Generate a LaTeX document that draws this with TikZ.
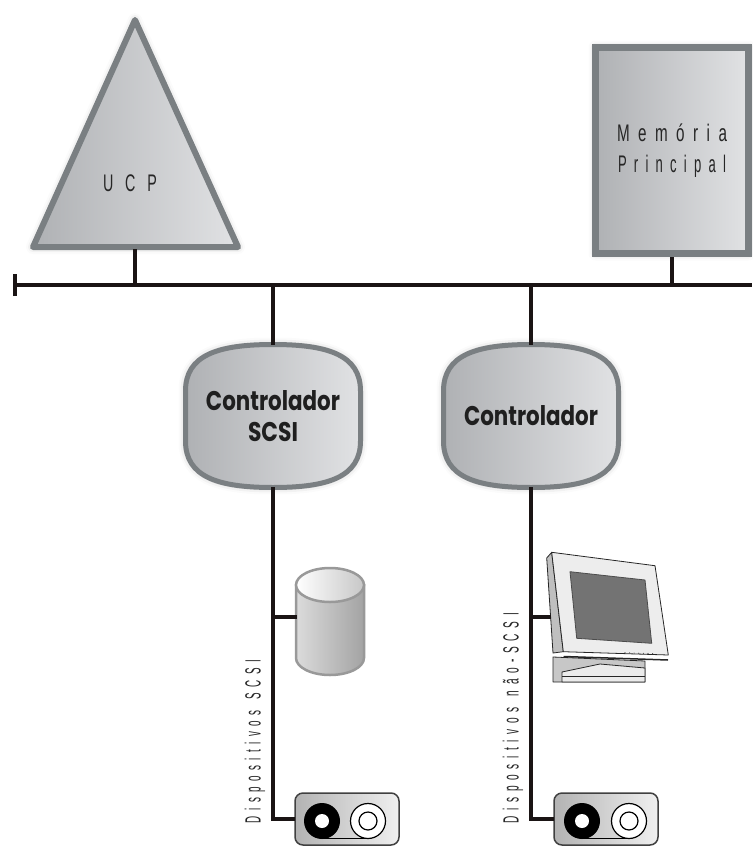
\documentclass[tikz,border=0pt]{standalone}
\usepackage{fontspec}
\setmainfont{Liberation Sans}
\newfontfamily\ctlfont{Poppins}
\usetikzlibrary{shadows.blur}
\definecolor{edge}{HTML}{7A7F82}
\definecolor{fillL}{HTML}{AFB1B4}
\definecolor{fillR}{HTML}{E1E2E4}
\definecolor{bus}{HTML}{1A1414}
\tikzset{
  unit/.style={draw=edge, left color=fillL, right color=fillR},
  soft/.style={blur shadow={shadow xshift=0pt, shadow yshift=0pt, shadow blur radius=7pt, shadow opacity=28}},
  busline/.style={draw=bus, line width=4pt},
  ctlshape/.style={unit, soft, line width=5pt},
  ctl/.style={minimum width=180pt, minimum height=148pt, inner sep=0pt,
    font=\ctlfont\bfseries\fontsize{27}{31}\selectfont, align=center, text=black!88},
  membox/.style={unit, soft, line width=7pt, minimum width=153pt, minimum height=206pt, align=center,
    font=\fontsize{24}{32}\selectfont, text=black!85},
  spaced/.style={font=\fontsize{24}{32}\selectfont, text=black!85},
  vlabel/.style={rotate=90, font=\fontsize{22}{22}\selectfont, text=black!85},
  dev/.style={draw=black!75, line width=1.5pt, rounded corners=8pt, left color=black!30, right color=black!6,
    minimum width=104pt, minimum height=52pt},
  reel/.style={draw=black, line width=1.2pt},
  mon/.style={draw=black!85, line width=0.8pt, line join=round},
}
\newcommand\ctloutline[1]{%
  \path[ctlshape, shift={(#1)}] (-87.5,-25) .. controls (-87.5,-61) and (-55,-71.5) .. (0,-71.5)
    .. controls (55,-71.5) and (87.5,-61) .. (87.5,-25) -- (87.5,25)
    .. controls (87.5,61) and (55,71.5) .. (0,71.5)
    .. controls (-55,71.5) and (-87.5,61) .. (-87.5,25) -- cycle;}
\newcommand\gap{\ \ }
\begin{document}
\begin{tikzpicture}[x=1pt,y=-1pt]
\useasboundingbox (0,0) rectangle (752,848);

% UCP triangle
\path[unit, soft, line width=6pt, line join=round] (135,20) -- (238,247) -- (33,247) -- cycle;
\node[spaced] (ucptext) at (130,183) {\resizebox{54pt}{\height}{U\ \ \ C\ \ \ P}};
\coordinate (ucp) at (135,249);

% Main memory
\node[membox] (mem) at (672,150.5)
  {\resizebox{110pt}{\height}{M\ \ e\ \ m\ \ ó\ \ r\ \ i\ \ a}\\[-1pt]\resizebox{108pt}{\height}{P\ \ r\ \ i\ \ n\ \ c\ \ i\ \ p\ \ a\ \ l}};

% Bus
\coordinate (busL) at (15,285);
\coordinate (busR) at (752,285);
\draw[busline] (busL) -- (busR);
\draw[busline] ([yshift=-11pt]busL) -- ([yshift=11pt]busL);
\draw[busline] (ucp) -- (ucp |- busL);
\draw[busline] (mem.south) -- (mem.south |- busL);

% Controllers
\coordinate (p1) at (273,416);
\coordinate (p2) at (531,416);
\ctloutline{p1}
\ctloutline{p2}
\node[ctl] (c1) at (p1) {\resizebox{134pt}{\height}{Controlador}\\\resizebox{50pt}{\height}{SCSI}};
\node[ctl] (c2) at (p2) {\resizebox{134pt}{\height}{Controlador}};
\draw[busline] (c1.north |- busL) -- ([yshift=-3pt]c1.north);
\draw[busline] (c2.north |- busL) -- ([yshift=-3pt]c2.north);

% Bottom devices
\node[dev] (d1) at (347,819) {};
\node[dev] (d2) at (606,819) {};
\foreach \d/\bx/\wx in {d1/-25/21, d2/-24/23}{
  \draw[reel, line width=1pt] ([xshift=\bx pt, yshift=-19pt]\d.center) -- ([xshift=\wx pt, yshift=-19pt]\d.center);
  \fill[black] ([xshift=\bx pt, yshift=-2pt]\d.center) circle[radius=18pt];
  \fill[white] ([xshift=\bx pt, yshift=-2pt]\d.center) circle[radius=7pt];
  \draw[reel, fill=white] ([xshift=\wx pt, yshift=-2pt]\d.center) circle[radius=17.5pt];
  \draw[reel] ([xshift=\wx pt, yshift=-2pt]\d.center) circle[radius=9pt];
}

% Cylinder (disk)
\coordinate (cyl) at (297,617);
\path[left color=black!14, right color=black!36, draw=black!40, line width=2.5pt]
  (296,585) -- (296,658) arc[start angle=180, end angle=0, x radius=34, y radius=17] -- (364,585) -- cycle;
\path[left color=white, right color=black!22, draw=black!40, line width=2.5pt]
  (330,585) ellipse[x radius=34, y radius=17];

% Monitor
\coordinate (mon) at (551,617);
\path[mon, fill=black!22] (553,657) -- (645,661) -- (645,682) -- (553,682) -- cycle;
\path[mon, fill=black!8] (562,672) -- (600,664) -- (645,668) -- (645,682) -- (562,682) -- cycle;
\draw[mon] (562,676) -- (645,676);
\path[mon, fill=black!25] (546.7,558) -- (551.7,552.3) -- (563.3,651.7) -- (553,653) -- cycle;
\path[mon, fill=black!7] (551.7,552.3) -- (655,565.7) -- (668.3,655) -- (563.3,651.7) -- cycle;
\path[mon, fill=black!55, draw=black!70] (570,571.7) -- (645,580) -- (651.7,643.3) -- (576.7,638.3) -- cycle;
\draw[mon, line width=1.5pt] (563.5,656.5) -- (668,660);
\foreach \i in {0,...,6}{
  \fill[black!70] ({625+4.6*\i},{652.8+0.15*\i}) circle[radius=0.6pt];
}

% Device chains
\coordinate (j1) at (c1.south |- cyl);
\coordinate (j2) at (c2.south |- mon);
\draw[busline] ([yshift=3pt]c1.south) -- (c1.south |- d1.west) -- ([xshift=1pt]d1.west);
\draw[busline] (j1) -- (cyl);
\draw[busline] ([yshift=3pt]c2.south) -- (c2.south |- d2.west) -- ([xshift=1pt]d2.west);
\draw[busline] (j2) -- (mon);

% Vertical labels
\node[vlabel] (lab1) at (255,741.5) {\resizebox{163pt}{\height}{D\gap i\gap s\gap p\gap o\gap s\gap i\gap t\gap i\gap v\gap o\gap s\gap\gap S\gap C\gap S\gap I}};
\node[vlabel] (lab2) at (513,718) {\resizebox{210pt}{\height}{D\gap i\gap s\gap p\gap o\gap s\gap i\gap t\gap i\gap v\gap o\gap s\gap\gap n\gap ã\gap o\gap -\gap S\gap C\gap S\gap I}};
\end{tikzpicture}
\end{document}
